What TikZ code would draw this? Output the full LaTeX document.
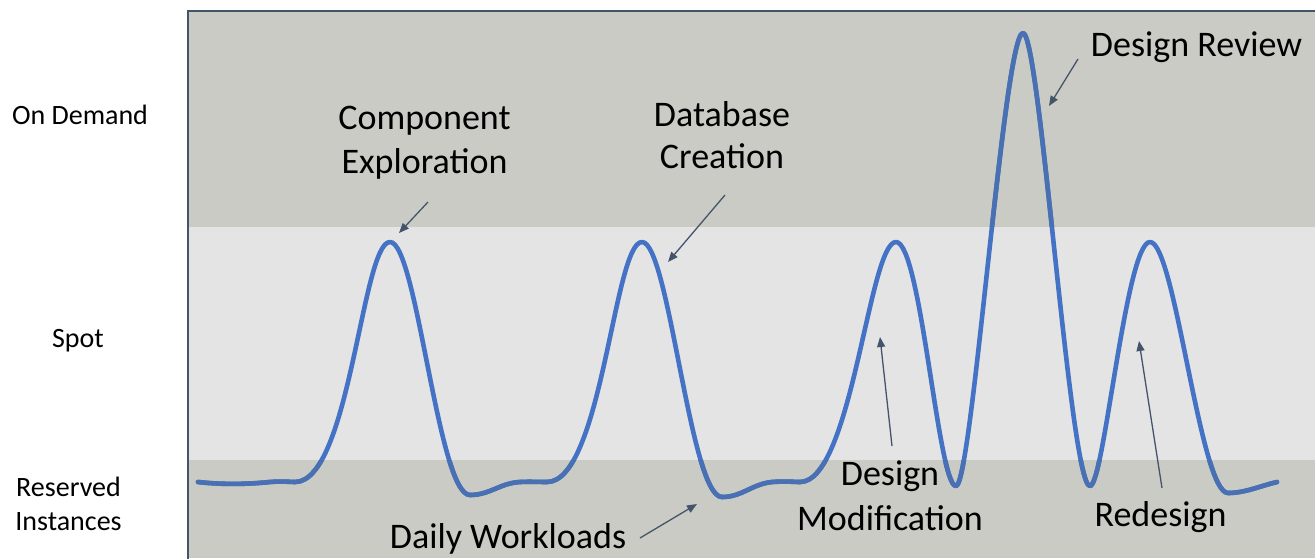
\documentclass[tikz,border=0pt]{standalone}
\usepackage{fontspec}
\setmainfont{Carlito}
\usetikzlibrary{arrows.meta}
\definecolor{bandgray}{HTML}{CBCBC5}
\definecolor{bandlight}{HTML}{E4E4E4}
\definecolor{framecol}{HTML}{44546A}
\definecolor{curveblue}{HTML}{4472C4}
\definecolor{curvedull}{HTML}{4870B2}
\definecolor{arrowcol}{HTML}{44546A}
\newcommand\loadcurve{(198,482) .. controls (225,485) and (250,484) .. (270,482)
 .. controls (282,481) and (290,482) .. (295,482)
 .. controls (350,482) and (362,242) .. (390,242)
 .. controls (417,242) and (438,495) .. (470,495)
 .. controls (490,495) and (500,483) .. (520,482)
 .. controls (530,481.5) and (540,482) .. (547,482)
 .. controls (602,482) and (614,242) .. (642,242)
 .. controls (669,242) and (690,497) .. (722,497)
 .. controls (742,497) and (752,484) .. (772,482)
 .. controls (785,481) and (795,482) .. (800,482)
 .. controls (852,482) and (869,242) .. (896,242)
 .. controls (921,242) and (938,486) .. (956,486)
 .. controls (972,486) and (1004,33) .. (1023,33)
 .. controls (1040,33) and (1070,486) .. (1090,486)
 .. controls (1104,486) and (1126,242) .. (1150,242)
 .. controls (1175,242) and (1200,493) .. (1228,493)
 .. controls (1245,493) and (1260,486) .. (1277,482)}
\tikzset{
  bigtext/.style={font=\fontsize{36}{44}\selectfont, inner sep=0pt, align=center},
  sidetext/.style={font=\fontsize{28}{34}\selectfont, inner sep=0pt, align=center},
  callout/.style={draw=arrowcol, line width=1.3pt, -{Triangle[length=10pt,width=8pt]}},
  loadline/.style={line width=4.6pt, line cap=round, line join=round},
}
\begin{document}
\begin{tikzpicture}[x=1pt,y=-1pt]
\useasboundingbox (0,0) rectangle (1315,558);
% bands
\fill[bandgray] (188,11) rectangle (1315,227);
\fill[bandlight] (188,227) rectangle (1315,460);
\fill[bandgray] (188,460) rectangle (1315,558);
% frame
\draw[framecol, line width=2.5pt] (188,560) -- (188,11) -- (1317,11);
% curve
\draw[curveblue, loadline] \loadcurve;
\begin{scope}
  \clip (188,11) rectangle (1315,227) (188,460) rectangle (1315,558);
  \draw[curvedull, loadline] \loadcurve;
\end{scope}
% side labels
\node[sidetext, anchor=base] (ondemand) at (80,124) {On Demand};
\node[sidetext, anchor=base] (spot) at (78,347) {Spot};
\node[sidetext] (reserved) at (68.5,503.5) {Reserved\\Instances};
% labels
\node[bigtext] (compexp) at (424.5,142.5) {Component\\Exploration};
\node[bigtext, font=\fontsize{36}{42}\selectfont] (dbcreate) at (722,135) {Database\\Creation};
\node[bigtext, anchor=base] (review) at (1196.5,56) {Design Review};
\node[bigtext, font=\fontsize{36}{45}\selectfont] (designmod) at (890,495.5) {Design\\Modification};
\node[bigtext, anchor=base] (redesign) at (1160.5,526) {Redesign};
\node[bigtext, anchor=base] (daily) at (508,548) {Daily Workloads};
% callouts
\coordinate (ceT) at (428,202); \coordinate (ceH) at (399,233);
\coordinate (dbT) at (725,195); \coordinate (dbH) at (668,262);
\coordinate (drT) at (1078,59); \coordinate (drH) at (1049,106);
\coordinate (dmT) at (892,446); \coordinate (dmH) at (880,337);
\coordinate (rdT) at (1162,488); \coordinate (rdH) at (1139,341);
\coordinate (dwT) at (640,538); \coordinate (dwH) at (697,504);
\draw[callout] (ceT) -- (ceH);
\draw[callout] (dbT) -- (dbH);
\draw[callout] (drT) -- (drH);
\draw[callout] (dmT) -- (dmH);
\draw[callout] (rdT) -- (rdH);
\draw[callout] (dwT) -- (dwH);
\end{tikzpicture}
\end{document}
